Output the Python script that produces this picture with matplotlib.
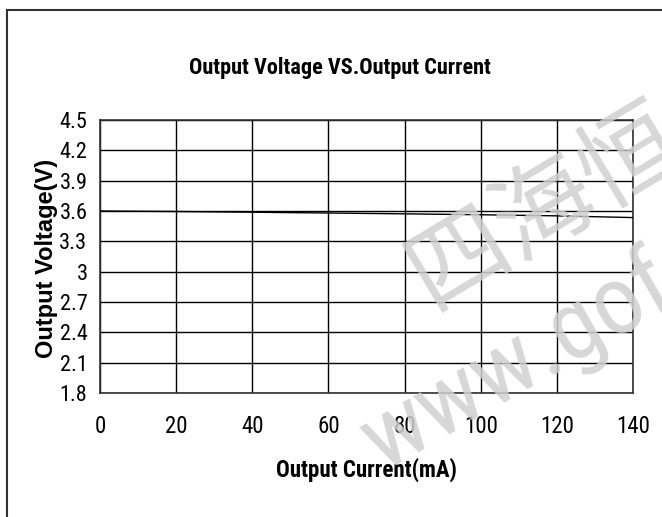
import matplotlib
matplotlib.use("Agg")
import matplotlib.pyplot as plt
from matplotlib.lines import Line2D
from matplotlib import font_manager

# Data
current_ma = [0, 20, 40, 60, 80, 100, 120, 140]
voltage_v = [3.60, 3.595, 3.588, 3.580, 3.572, 3.563, 3.552, 3.535]
x_ticks = [0, 20, 40, 60, 80, 100, 120, 140]
y_ticks = [1.8, 2.1, 2.4, 2.7, 3.0, 3.3, 3.6, 3.9, 4.2, 4.5]
y_tick_labels = ["1.8", "2.1", "2.4", "2.7", "3", "3.3", "3.6", "3.9", "4.2", "4.5"]

# pick a condensed font if one is installed
names = {f.name for f in font_manager.fontManager.ttflist}
cond_family = None
cond_stretch = "normal"
for cand in ["Liberation Sans Narrow", "Arial Narrow", "Roboto Condensed", "Open Sans Condensed"]:
    if cand in names:
        cond_family = cand
        break
if cond_family is None:
    for f in font_manager.fontManager.ttflist:
        if f.name == "DejaVu Sans" and str(f.stretch) in ("condensed", "semi-condensed", "600", "500"):
            cond_family = "DejaVu Sans"
            cond_stretch = "condensed"
            break
narrow = [cond_family, "Liberation Sans", "DejaVu Sans"] if cond_family else ["Liberation Sans", "DejaVu Sans"]
regular = ["Liberation Sans", "DejaVu Sans"]
k = 1.0 if cond_family else 0.88

W, H = 662, 517
fig = plt.figure(figsize=(W / 100, H / 100), dpi=100)
fig.patch.set_facecolor("white")

ax = fig.add_axes([100 / W, 1 - 393 / H, (633 - 100) / W, (393 - 120) / H])
ax.set_facecolor("none")
ax.plot(current_ma, voltage_v, color="black", lw=1.0, zorder=3)
ax.set_xlim(0, 140)
ax.set_ylim(1.8, 4.5)
ax.set_xticks(x_ticks)
ax.set_yticks(y_ticks)
ax.set_yticklabels(y_tick_labels)
ax.grid(True, color="black", lw=1.0)
ax.tick_params(length=0)
ax.tick_params(axis="y", pad=9)
ax.tick_params(axis="x", pad=16)
for lab in ax.get_xticklabels():
    lab.set_fontfamily(narrow)
    lab.set_fontstretch(cond_stretch)
    lab.set_fontsize(16.5 * k)
for lab in ax.get_yticklabels():
    lab.set_fontfamily(narrow)
    lab.set_fontstretch(cond_stretch)
    lab.set_fontsize(16 * k)
for s in ax.spines.values():
    s.set_color("#333333")
    s.set_linewidth(1.2)

fig.text(340 / W, 1 - 68 / H, "Output Voltage VS.Output Current", ha="center", va="center",
         fontsize=16 * k, fontweight="bold", family=narrow, fontstretch=cond_stretch)
fig.text(366 / W, 1 - 470 / H, "Output Current(mA)", ha="center", va="center",
         fontsize=16.5 * k, fontweight="bold", family=narrow, fontstretch=cond_stretch)
fig.text(47 / W, 1 - 258 / H, "Output Voltage(V)", ha="center", va="center", rotation=90,
         fontsize=17, fontweight="bold", family=regular)

# figure border
fig.add_artist(Line2D([7 / W, 7 / W], [0, 1 - 10 / H], color="#333333", lw=1.5, transform=fig.transFigure))
fig.add_artist(Line2D([7 / W, 1], [1 - 10 / H, 1 - 10 / H], color="#333333", lw=1.5, transform=fig.transFigure))

# watermark
wm_color = "#d0d0d0"
fig.text(545 / W, 1 - 207 / H, "四海恒", ha="center", va="center", rotation=31,
         fontsize=72, color=wm_color, alpha=0.85, family=["Noto Sans CJK SC", "DejaVu Sans"], zorder=10)
fig.text(383 / W, 1 - 472 / H, "www.gof", ha="left", va="baseline", rotation=30,
         rotation_mode="anchor", fontsize=70 * k, color=wm_color, alpha=0.85,
         family=narrow, fontstretch=cond_stretch, zorder=10)

fig.savefig("out.png", dpi=100)
